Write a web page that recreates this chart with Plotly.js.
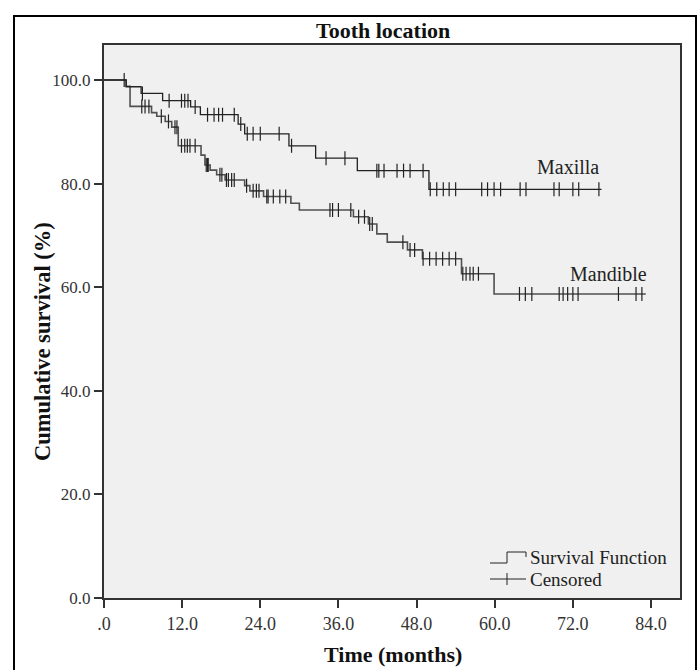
<!DOCTYPE html>
<html>
<head>
<meta charset="utf-8">
<script src="https://cdn.plot.ly/plotly-3.0.1.min.js"></script>
<style>html,body{margin:0;padding:0;background:#fff;}#chart{width:699px;height:670px;}</style>
</head>
<body>
<div id="chart"></div>
<script>
// ---- Data ----
const maxillaTimes = [0, 3.4, 5.7, 9.0, 13.3, 14.8, 20.6, 21.6, 28.4, 32.5, 38.9, 49.9];
const maxillaSurv  = [100, 98.7, 97.4, 96.0, 94.8, 93.3, 91.5, 89.6, 87.3, 84.9, 82.5, 78.9];
const maxillaEnd = 76.4;
const maxillaCensored = [3.1, 5.9, 10.0, 11.9, 12.4, 12.9, 14.0, 15.9, 16.9, 17.6, 18.2, 20.0, 21.0,
  22.0, 22.9, 24.0, 26.9, 28.8, 34.1, 37.0, 41.9, 42.2, 43.0, 45.0, 46.0, 47.0, 49.0, 50.1, 51.1,
  52.1, 53.0, 54.0, 58.0, 58.9, 59.9, 60.9, 63.9, 64.8, 69.1, 69.9, 72.0, 72.9, 76.0];

const mandibleTimes = [0, 3.4, 4.0, 7.3, 8.1, 9.4, 10.4, 11.4, 14.9, 15.5, 16.3, 17.3, 18.6, 21.6,
  22.4, 24.5, 28.7, 30.0, 38.3, 40.6, 41.9, 43.5, 46.6, 48.9, 54.9, 59.9];
const mandibleSurv  = [100, 98.8, 94.9, 93.7, 93.0, 92.0, 90.9, 87.3, 85.5, 83.6, 82.6, 81.7, 80.7,
  79.6, 78.6, 77.5, 76.2, 74.9, 73.6, 72.2, 70.3, 68.7, 67.2, 65.5, 62.6, 58.7];
const mandibleEnd = 83.2;
const mandibleCensored = [5.8, 6.3, 6.9, 8.8, 9.9, 10.9, 11.2, 11.9, 12.4, 12.8, 13.2, 14.0, 15.7,
  15.9, 16.0, 17.8, 18.1, 18.8, 19.1, 19.6, 20.0, 21.9, 22.9, 23.4, 23.8, 25.0, 25.2, 26.0, 27.0,
  27.9, 34.7, 35.1, 36.0, 37.9, 39.1, 40.0, 40.8, 41.2, 45.9, 47.0, 47.7, 49.0, 50.0, 51.0, 52.0,
  53.0, 54.0, 55.1, 55.6, 56.2, 56.7, 57.5, 63.8, 64.7, 65.7, 69.9, 70.5, 71.2, 72.0, 72.8, 79.0,
  81.7, 82.6];

const xTickVals = [0, 12, 24, 36, 48, 60, 72, 84];
const xTickText = ['.0', '12.0', '24.0', '36.0', '48.0', '60.0', '72.0', '84.0'];
const yTickVals = [0, 20, 40, 60, 80, 100];
const yTickText = ['0.0', '20.0', '40.0', '60.0', '80.0', '100.0'];

// ---- helpers ----
function stepValue(times, surv, t) {
  let v = surv[0];
  for (let i = 0; i < times.length; i++) { if (times[i] <= t) v = surv[i]; }
  return v;
}
function curve(times, surv, end) {
  return { x: times.concat([end]), y: surv.concat([surv[surv.length - 1]]) };
}
const PL = 104, PR = 680, PT = 45, PB = 598;
const px = v => (v - PL) / (PR - PL);
const py = v => (PB - v) / (PB - PT);

const maxC = curve(maxillaTimes, maxillaSurv, maxillaEnd);
const manC = curve(mandibleTimes, mandibleSurv, mandibleEnd);

const serif = 'Liberation Serif, Times New Roman, serif';
const censorMarker = { symbol: 'line-ns-open', size: 10, color: '#222', line: { color: '#222', width: 1.2 } };

const traces = [
  { x: manC.x, y: manC.y, mode: 'lines', line: { shape: 'hv', color: '#505050', width: 1.6 }, hoverinfo: 'skip' },
  { x: mandibleCensored, y: mandibleCensored.map(t => stepValue(mandibleTimes, mandibleSurv, t)),
    mode: 'markers', marker: censorMarker, hoverinfo: 'skip' },
  { x: maxC.x, y: maxC.y, mode: 'lines', line: { shape: 'hv', color: '#222', width: 1.3 }, hoverinfo: 'skip' },
  { x: maxillaCensored, y: maxillaCensored.map(t => stepValue(maxillaTimes, maxillaSurv, t)),
    mode: 'markers', marker: censorMarker, hoverinfo: 'skip' }
];

const layout = {
  width: 699, height: 670,
  margin: { l: PL, r: 699 - PR, t: PT, b: 670 - PB, pad: 0 },
  paper_bgcolor: '#ffffff', plot_bgcolor: '#f0f0f0',
  showlegend: false,
  xaxis: {
    range: [0, (PR - PL) / 6.512], tickvals: xTickVals, ticktext: xTickText,
    ticks: 'outside', ticklen: 8, tickwidth: 2, tickcolor: '#333',
    showline: true, linecolor: '#333', linewidth: 2, mirror: true,
    showgrid: false, zeroline: false,
    tickfont: { family: serif, size: 18, color: '#333' }
  },
  yaxis: {
    range: [0, (PB - PT) / 5.18], tickvals: yTickVals, ticktext: yTickText,
    ticks: 'outside', ticklen: 8, tickwidth: 2, tickcolor: '#333',
    showline: true, linecolor: '#333', linewidth: 2, mirror: true,
    showgrid: false, zeroline: false,
    tickfont: { family: serif, size: 17, color: '#333' }
  },
  annotations: [
    { text: '<b>Tooth location</b>', xref: 'paper', yref: 'paper', x: px(383), y: py(30), showarrow: false,
      font: { family: serif, size: 22, color: '#111' }, xanchor: 'center', yanchor: 'middle' },
    { text: '<b>Time (months)</b>', xref: 'paper', yref: 'paper', x: px(393), y: py(654), showarrow: false,
      font: { family: serif, size: 22, color: '#111' }, xanchor: 'center', yanchor: 'middle' },
    { text: '<b>Cumulative survival (%)</b>', xref: 'paper', yref: 'paper', x: px(42), y: py(342), showarrow: false,
      textangle: -90, font: { family: serif, size: 22.5, color: '#111' }, xanchor: 'center', yanchor: 'middle' },
    { text: 'Maxilla', xref: 'paper', yref: 'paper', x: px(568), y: py(167), showarrow: false,
      font: { family: serif, size: 20, color: '#222' }, xanchor: 'center', yanchor: 'middle' },
    { text: 'Mandible', xref: 'paper', yref: 'paper', x: px(608), y: py(274), showarrow: false,
      font: { family: serif, size: 20, color: '#222' }, xanchor: 'center', yanchor: 'middle' },
    { text: 'Survival Function', xref: 'paper', yref: 'paper', x: px(528), y: py(557), showarrow: false,
      font: { family: serif, size: 19, color: '#222' }, xanchor: 'left', yanchor: 'middle' },
    { text: 'Censored', xref: 'paper', yref: 'paper', x: px(528), y: py(579), showarrow: false,
      font: { family: serif, size: 19, color: '#222' }, xanchor: 'left', yanchor: 'middle' }
  ],
  shapes: [
    // outer frame
    { type: 'rect', xref: 'paper', yref: 'paper', x0: px(14), x1: px(696), y0: py(16), y1: py(675),
      line: { color: '#000', width: 2 }, fillcolor: 'rgba(0,0,0,0)', layer: 'below' },
    // legend: survival function symbol
    { type: 'path', xref: 'paper', yref: 'paper',
      path: 'M ' + px(490) + ' ' + py(563) + ' L ' + px(507) + ' ' + py(563) + ' L ' + px(507) + ' ' + py(552) +
            ' L ' + px(526) + ' ' + py(552) + ' L ' + px(526) + ' ' + py(557),
      line: { color: '#222', width: 1 } },
    // legend: censored symbol
    { type: 'line', xref: 'paper', yref: 'paper', x0: px(490), x1: px(526), y0: py(579), y1: py(579),
      line: { color: '#222', width: 1 } },
    { type: 'line', xref: 'paper', yref: 'paper', x0: px(507), x1: px(507), y0: py(573), y1: py(585),
      line: { color: '#222', width: 1 } }
  ]
};

Plotly.newPlot('chart', traces, layout, { displayModeBar: false, staticPlot: true });
</script>
</body>
</html>
